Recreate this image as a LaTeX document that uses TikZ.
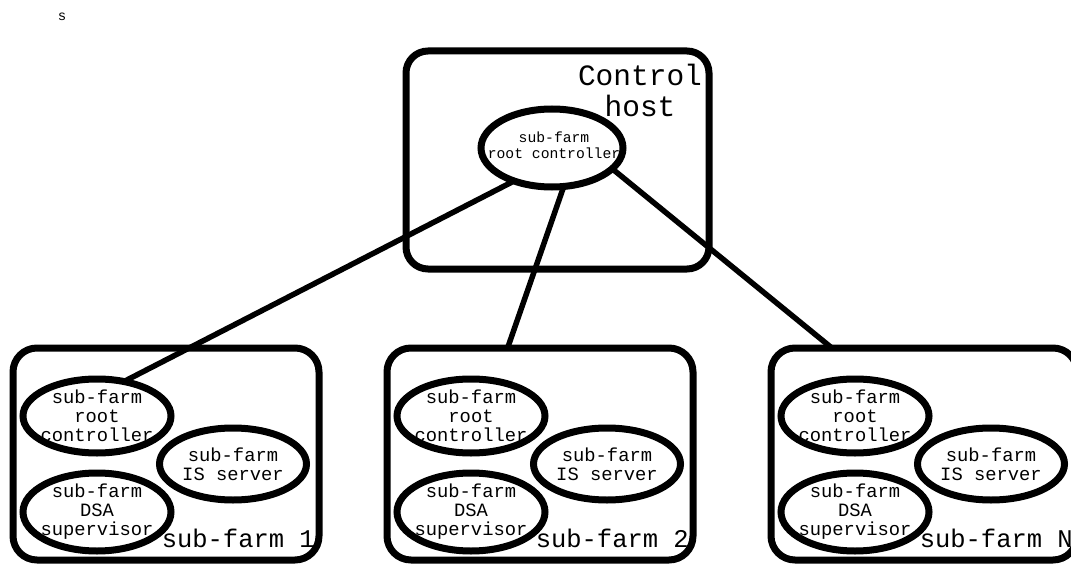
\documentclass[tikz,border=0pt]{standalone}
\usepackage{fontspec}
\setmonofont{Liberation Mono}
\usetikzlibrary{shapes.geometric}

\tikzset{
    host box/.style={
      draw, line width=7pt, rounded corners=22pt,
      minimum width=303pt, minimum height=218pt, outer sep=0pt
    },
    farm box/.style={
      draw, line width=7pt, rounded corners=24pt,
      minimum width=306pt, minimum height=212pt, outer sep=0pt
    },
    proc/.style={
      draw, ellipse, line width=7pt, inner sep=0pt, outer sep=0pt
    },
    proc text/.style={
      font=\ttfamily\fontsize{18.8}{19}\selectfont, align=center, inner sep=0pt
    },
    farm label/.style={
      font=\ttfamily\fontsize{25.5}{26}\selectfont, inner sep=0pt, anchor=base east
    },
    link/.style={
      line width=5.5pt
    }
  }

\begin{document}
\begin{tikzpicture}[x=1pt, y=-1pt]
      \clip (0,0) rectangle (1071,567);

      % 左上
      \node[font=\ttfamily\fontsize{14}{14}\selectfont, inner sep=0pt] (s) at (62,17) {s};

      % 制御ホスト
      \node[host box] (host) at (557.5,160) {};
      \node[font=\ttfamily\fontsize{29.5}{31}\selectfont, align=center, inner sep=0pt] (host label) at (640,90) {Control\\host};
      \node[proc, minimum width=142pt, minimum height=78pt] (root) at (552,148) {};
      \node[font=\ttfamily\fontsize{14.7}{16}\selectfont, align=center, inner sep=0pt] (root text) at (554,145) {sub-farm\\root controller};

      % サブファーム
      \foreach \i/\x/\lab in {1/13/1, 2/387/2, 3/771/N} {
        \node[farm box] (farm\i) at (\x+153,454) {};
        \node[proc, minimum width=148pt, minimum height=74pt] (rc\i) at (\x+84,416) {};
        \node[proc text] (rc text\i) at (rc\i) {sub-farm\\root\\controller};
        \node[proc, minimum width=147pt, minimum height=72pt] (is\i) at (\x+220,464) {};
        \node[proc text] (is text\i) at (is\i) {sub-farm\\IS server};
        \node[proc, minimum width=148pt, minimum height=78pt] (dsa\i) at (\x+84,512) {};
        \node[proc text] (dsa text\i) at (dsa\i) {sub-farm\\DSA\\supervisor};
        \node[farm label] (farm label\i) at (\x+302,547) {sub-farm \lab};
      }

      % 接続
      \draw[link] (root.221) -- (rc1.52);
      \draw[link] (root.287) -- (farm2.107);
      \draw[link] (root.341) -- (farm3.131);
    \end{tikzpicture}
\end{document}
